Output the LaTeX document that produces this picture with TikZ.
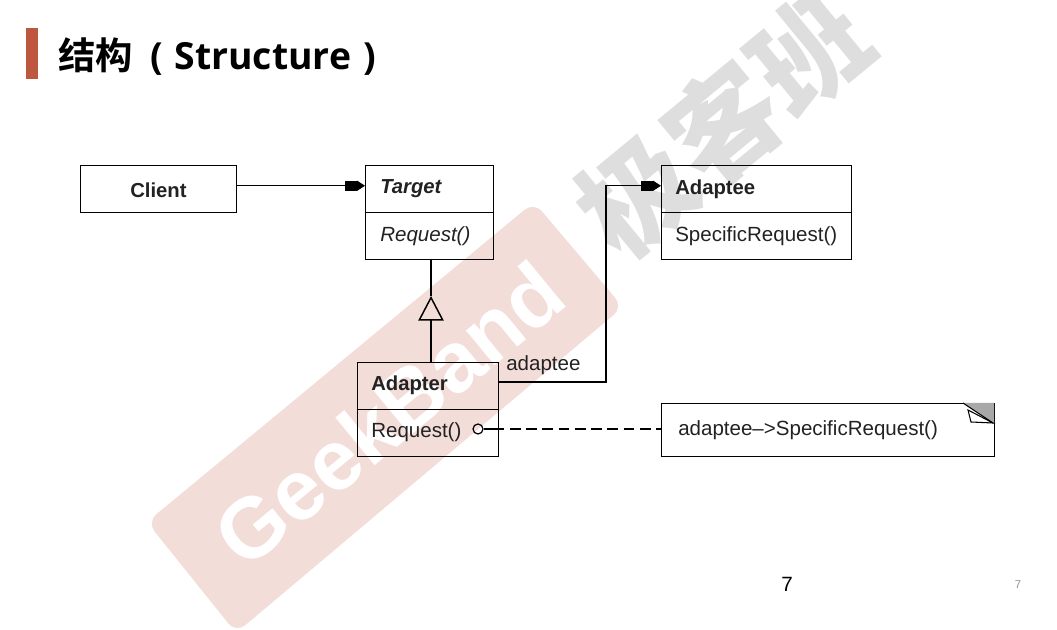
\documentclass[tikz,border=0pt]{standalone}
\usepackage{fontspec}
\setmainfont{Liberation Sans}
\newfontfamily\cjkbold[BoldFont=Noto Sans CJK SC Bold]{Noto Sans CJK SC}
\newfontfamily\cjkblack{Noto Sans CJK SC Black}
\newfontfamily\titlelatin{Open Sans}
\usetikzlibrary{arrows.meta,calc}
\definecolor{inkc}{HTML}{222222}
\definecolor{barc}{HTML}{BF5740}
\definecolor{bandc}{HTML}{F3DDD9}
\definecolor{greywm}{HTML}{DEDEDE}
\definecolor{foldc}{HTML}{A8A8A8}
\tikzset{
  x=0.75pt,y=-0.75pt,
  umlbox/.style={draw=black,line width=1.1pt,minimum height=35.25pt,inner sep=0pt,anchor=north west},
  lbl/.style={anchor=west,inner sep=0pt,font=\fontsize{15.4}{18}\selectfont,text=inkc},
  assoc/.style={line width=1.1pt,-{Rectangle[length=9pt,width=7.5pt,sep=0pt]Triangle[length=6pt,width=7.5pt]}},
  inherit/.style={line width=1.1pt,-{Triangle[open,length=18.5pt,width=19pt]}},
  dashlink/.style={line width=1.1pt,dash pattern=on 8pt off 4.2pt},
  wm/.style={inner sep=0pt,rotate=39.5}
}
\begin{document}
\begin{tikzpicture}
\useasboundingbox (0,0) rectangle (1057,630);
% watermark
\fill[bandc,rounded corners=9pt] (147,522) -- (534,202) -- (623,307) -- (236,633) -- cycle;
\node[wm,text=white,font=\bfseries\fontsize{64}{70}\selectfont] (wmband) at (389,414) {GeekBand};
\begin{scope}
\clip (0,0) rectangle (1057,630);
\node[wm,text=greywm,font=\cjkblack\fontsize{84}{90}\selectfont] (wmcn) at (723,123) {极客班};
\end{scope}
% title
\fill[barc] (26,28) rectangle (38,79);
\node[anchor=west,inner sep=0pt] (title) at (58,57) {\fontsize{28}{32}\selectfont\cjkbold\bfseries 结构\hspace{13pt}\titlelatin\bfseries (\hspace{1.5pt} Structure \hspace{2pt})};
% boxes
\node[umlbox,minimum width=117pt] (client) at (80,165) {};
\node[umlbox,minimum width=96pt] (targethead) at (365,165) {};
\node[umlbox,minimum width=96pt] (targetbody) at (365,212) {};
\node[umlbox,minimum width=142.5pt] (adapteehead) at (661,165) {};
\node[umlbox,minimum width=142.5pt] (adapteebody) at (661,212) {};
\node[umlbox,minimum width=105.75pt] (adapterhead) at (357,362) {};
\node[umlbox,minimum width=105.75pt] (adapterbody) at (357,409) {};
\node[umlbox,minimum width=249.75pt,minimum height=39.75pt] (note) at (661,403) {};
% labels
\node[lbl,font=\bfseries\fontsize{15.2}{18}\selectfont] (lclient) at (130,190) {Client};
\node[lbl,font=\bfseries\itshape\fontsize{15.2}{18}\selectfont] (ltarget) at (380,189) {Target};
\node[lbl,font=\itshape\fontsize{15.4}{18}\selectfont] (ltreq) at (380,236) {Request()};
\node[lbl,font=\bfseries\fontsize{15.2}{18}\selectfont] (ladaptee) at (675,189) {Adaptee};
\node[lbl] (lspec) at (675,236) {SpecificRequest()};
\node[lbl,font=\bfseries\fontsize{15.2}{18}\selectfont] (ladapter) at (371,385) {Adapter};
\node[lbl] (lareq) at (371,432) {Request()};
\node[lbl] (lrole) at (506,365) {adaptee};
\node[lbl] (lnote) at (678,430) {adaptee\textendash>SpecificRequest()};
% note fold
\fill[foldc] (963,403) -- (994,403) -- (994,424) -- cycle;
\draw[line width=.8pt,fill=white] (968,410) -- (971,422) -- (993,423) -- cycle;
\draw[line width=.8pt] (963,403) -- (993,423);
% connectors
\draw[assoc] ([yshift=2.6pt]client.east) -- ([yshift=2.6pt]targethead.west);
\coordinate (apex) at (431,296);
\draw[line width=1.1pt] (targetbody.south -| apex) -- (apex);
\draw[inherit] (adapterhead.north -| apex) -- (apex);
\coordinate (elbow) at (606,382);
\draw[assoc] (adapterhead.east |- elbow) -- (elbow) |- ([yshift=2.6pt]adapteehead.west);
\node[draw=black,line width=.9pt,circle,minimum size=7.5pt,inner sep=0pt] (dot) at (478,429) {};
\draw[line width=1.1pt] (dot.east) -- ++(10,0);
\draw[dashlink] ([xshift=7.5pt]dot.east) -- (note.west |- dot);
% page numbers
\node[inner sep=0pt,text=black,font=\fontsize{15.5}{18}\selectfont] (pg) at (787,584) {7};
\node[inner sep=0pt,text=gray!85,font=\fontsize{8.5}{10}\selectfont] (pgsmall) at (1018,585) {7};
\end{tikzpicture}
\end{document}
